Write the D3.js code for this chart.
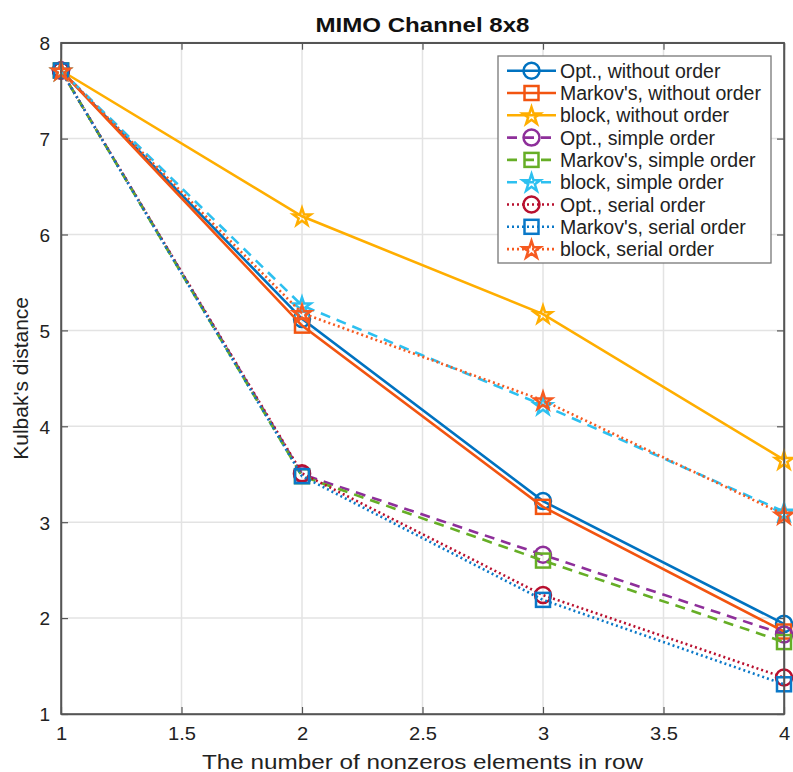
<!DOCTYPE html>
<html><head><meta charset="utf-8">
<script src="https://cdn.jsdelivr.net/npm/d3@7"></script>
<style>
html,body{margin:0;padding:0;background:#fff;}
text{font-family:"Liberation Sans",Arial,sans-serif;}
</style></head>
<body><svg id="c" width="793" height="772"></svg>
<script>
const xValues = [1, 2, 3, 4];
const xTicks = [1, 1.5, 2, 2.5, 3, 3.5, 4];
const yTicks = [1, 2, 3, 4, 5, 6, 7, 8];
const seriesNames = ["Opt., without order","Markov's, without order","block, without order",
  "Opt., simple order","Markov's, simple order","block, simple order",
  "Opt., serial order","Markov's, serial order","block, serial order"];
const optWithout    = [7.71, 5.12, 3.22, 1.94];
const markovWithout = [7.71, 5.05, 3.16, 1.86];
const blockWithout  = [7.71, 6.19, 5.17, 3.65];
const optSimple     = [7.71, 3.50, 2.66, 1.83];
const markovSimple  = [7.71, 3.48, 2.60, 1.75];
const blockSimple   = [7.71, 5.26, 4.22, 3.11];
const optSerial     = [7.71, 3.51, 2.24, 1.38];
const markovSerial  = [7.71, 3.48, 2.19, 1.31];
const blockSerial   = [7.71, 5.18, 4.27, 3.08];
const seriesValues = [optWithout, markovWithout, blockWithout, optSimple, markovSimple, blockSimple, optSerial, markovSerial, blockSerial];
const colors = ["#0072C0","#F25410","#FFAE00","#8E2F9A","#66AE26","#2DC0F0","#B8102F","#0A78C8","#F65A20"];
const markers = ["circle","square","star","circle","square","star","circle","square","star"];
const dashes = [null,null,null,"10,7","10,7","10,7","2,3","2,3","2,3"];

const svg = d3.select("#c");
const L = 61, R = 784, T = 42.7, B = 714;
const x = d3.scaleLinear().domain([1,4]).range([L,R]);
const y = d3.scaleLinear().domain([1,8]).range([B,T]);

// grid
svg.append("g").selectAll("line").data(xTicks).join("line")
  .attr("x1",d=>x(d)).attr("x2",d=>x(d)).attr("y1",T).attr("y2",B)
  .attr("stroke","#e3e3e3").attr("stroke-width",1.5);
svg.append("g").selectAll("line").data(yTicks).join("line")
  .attr("x1",L).attr("x2",R).attr("y1",d=>y(d)).attr("y2",d=>y(d))
  .attr("stroke","#e3e3e3").attr("stroke-width",1.5);

// axes
const axisColor = "#555";
const gx = svg.append("g").attr("transform",`translate(0,${B})`)
  .call(d3.axisBottom(x).tickValues(xTicks).tickFormat(d3.format("")).tickSizeInner(-7).tickSizeOuter(0).tickPadding(13));
const gxt = svg.append("g").attr("transform",`translate(0,${T})`)
  .call(d3.axisTop(x).tickValues(xTicks).tickFormat("").tickSizeInner(-7).tickSizeOuter(0));
const gy = svg.append("g").attr("transform",`translate(${L},0)`)
  .call(d3.axisLeft(y).tickValues(yTicks).tickFormat(d3.format("")).tickSizeInner(-7).tickSizeOuter(0).tickPadding(11));
const gyr = svg.append("g").attr("transform",`translate(${R},0)`)
  .call(d3.axisRight(y).tickValues(yTicks).tickFormat("").tickSizeInner(-7).tickSizeOuter(0));
[gx,gxt,gy,gyr].forEach(g=>{
  g.attr("font-family",null).attr("font-size",null);
  g.selectAll("path").attr("stroke",axisColor).attr("stroke-width",1.5);
  g.selectAll("line").attr("stroke",axisColor).attr("stroke-width",1.2);
  g.selectAll("text").attr("fill","#222").attr("font-family","Liberation Sans, Arial, sans-serif");
});
gx.selectAll("text").attr("font-size",19).attr("transform","scale(1.06,1)");
gy.selectAll("text").attr("font-size",19).attr("dy","0.36em");

// series
const line = d3.line().x((d,i)=>x(xValues[i])).y(d=>y(d));
function drawMarker(g, type, cx, cy, color){
  if(type==="circle"){
    g.append("circle").attr("cx",cx).attr("cy",cy).attr("r",8).attr("fill","none").attr("stroke",color).attr("stroke-width",2.5);
  } else if(type==="square"){
    g.append("rect").attr("x",cx-7).attr("y",cy-7).attr("width",14).attr("height",14).attr("fill","none").attr("stroke",color).attr("stroke-width",2.5);
  } else {
    g.append("path").attr("d",d3.symbol().type(d3.symbolStar).size(95)()).attr("transform",`translate(${cx},${cy+1})`)
      .attr("fill","none").attr("stroke",color).attr("stroke-width",2.5);
  }
}
seriesValues.forEach((vals,k)=>{
  const g = svg.append("g");
  g.append("path").datum(vals).attr("d",line).attr("fill","none")
    .attr("stroke",colors[k]).attr("stroke-width",2.6)
    .attr("stroke-dasharray",dashes[k]);
  vals.forEach((v,i)=>drawMarker(g, markers[k], x(xValues[i]), y(v), colors[k]));
});

// axis box on top
svg.append("rect").attr("x",L).attr("y",T).attr("width",R-L).attr("height",B-T)
  .attr("fill","none").attr("stroke",axisColor).attr("stroke-width",1.5);

// title and labels
svg.append("text").attr("x",(L+R)/2).attr("y",31.5).attr("text-anchor","middle")
  .attr("font-size",21).attr("font-weight","bold").attr("fill","#111")
  .attr("textLength",214).attr("lengthAdjust","spacingAndGlyphs").text("MIMO Channel 8x8");
svg.append("text").attr("x",(L+R)/2).attr("y",769).attr("text-anchor","middle")
  .attr("font-size",20).attr("fill","#222").attr("textLength",441).attr("lengthAdjust","spacingAndGlyphs")
  .text("The number of nonzeros elements in row");
svg.append("text").attr("transform",`translate(28,${(T+B)/2}) rotate(-90)`).attr("text-anchor","middle")
  .attr("font-size",21).attr("fill","#222").text("Kulbak's distance");

// legend
const lg = svg.append("g");
const lx = 498, ly = 56, lw = 273, lh = 207, rowH = 22.3;
lg.append("rect").attr("x",lx).attr("y",ly).attr("width",lw).attr("height",lh)
  .attr("fill","#fff").attr("stroke","#777").attr("stroke-width",1.3);
seriesNames.forEach((name,k)=>{
  const cy = 70.7 + rowH*k;
  lg.append("line").attr("x1",507).attr("x2",556).attr("y1",cy).attr("y2",cy)
    .attr("stroke",colors[k]).attr("stroke-width",2.6).attr("stroke-dasharray",dashes[k]);
  drawMarker(lg, markers[k], 531.5, cy, colors[k]);
  lg.append("text").attr("x",560).attr("y",cy+7).attr("font-size",19.5).attr("fill","#222").text(name);
});
</script></body></html>
